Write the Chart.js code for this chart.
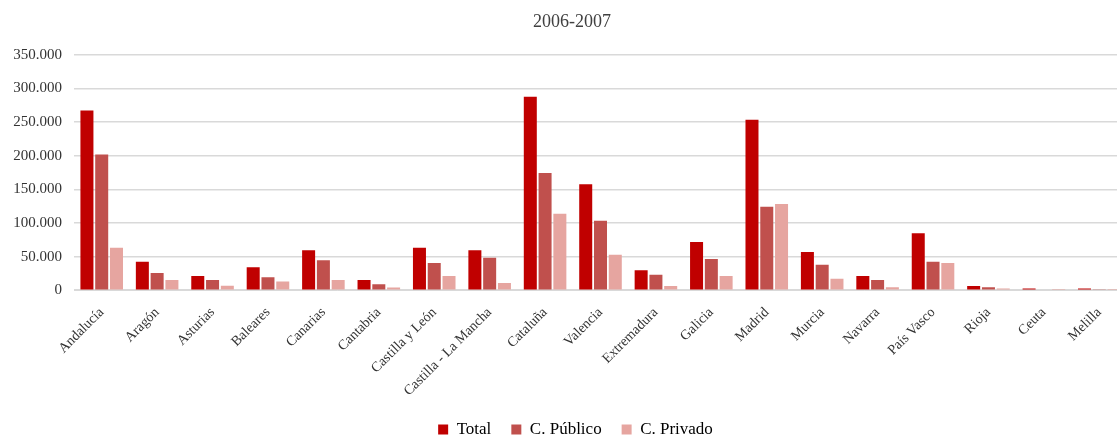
<!DOCTYPE html>
<html>
<head>
<meta charset="utf-8">
<title>2006-2007</title>
<script src="https://cdn.jsdelivr.net/npm/chart.js@4/dist/chart.umd.min.js"></script>
<style>
  html, body { margin: 0; padding: 0; background: #fff; overflow: hidden; }
  /* el original está recortado a la derecha y abajo */
  #wrap { position: relative; width: 1150px; height: 448px; }
</style>
</head>
<body>
<div id="wrap"><canvas id="alumnos"></canvas></div>
<script>
// datos 2006-2007 por comunidad
const comunidades = ["Andalucía", "Aragón", "Asturias", "Baleares", "Canarias", "Cantabria",
  "Castilla y León", "Castilla - La Mancha", "Cataluña", "Valencia", "Extremadura", "Galicia",
  "Madrid", "Murcia", "Navarra", "País Vasco", "Rioja", "Ceuta", "Melilla"];
const total   = [267000, 42400, 21200, 34100, 59300, 15300, 63200, 59300, 287700, 157600, 29700, 71600, 253600, 56800, 21200, 84500, 6400, 2400, 2400];
const publico = [201700, 25700, 15300, 19300, 44500, 8900, 40500, 48400, 174400, 103200, 23100, 46400, 124000, 38000, 15300, 42400, 4400, 1200, 1300];
const privado = [63200, 15300, 6800, 12800, 15300, 3900, 21200, 10800, 113600, 52800, 6400, 21200, 128000, 17200, 4400, 40500, 2400, 200, 200];
const yTicks  = [0, 50000, 100000, 150000, 200000, 250000, 300000, 350000];

const serif = "'Liberation Serif', 'Times New Roman', serif";

// 50000 -> "50.000"
function miles(v){
  return String(v).replace(/\B(?=(\d{3})+(?!\d))/g, ".");
}

// el título y la leyenda van centrados sobre el gráfico sin recortar
const centrarCabecera = {
  id: "centrarCabecera",
  afterLayout(chart){
    chart.titleBlock.left += 6.5;
    chart.titleBlock.right += 6.5;
    chart.legend.left += 10;
    chart.legend.right += 10;
  },
};

function createChart(labels, datasets, options, element){
  const ctx = document.getElementById(element);
  return new Chart(ctx, {
    type: "bar",
    data: { labels: labels, datasets: datasets },
    options: options,
    plugins: [centrarCabecera],
  });
}

const barAlumnos = createChart(
  comunidades,
  [
    { label: "Total", data: total, backgroundColor: "#C00000" },
    { label: "C. Público", data: publico, backgroundColor: "#C0504D" },
    { label: "C. Privado", data: privado, backgroundColor: "#E6A5A0" },
  ],
  {
    responsive: true,
    maintainAspectRatio: false,
    animation: false,
    categoryPercentage: 0.8,
    barPercentage: 0.88,
    layout: { padding: { left: 4, right: 23, top: 0, bottom: 0 } },
    plugins: {
      title: {
        display: true,
        text: "2006-2007",
        color: "#404040",
        font: { family: serif, size: 18, weight: "normal" },
        padding: { top: 11.5, bottom: 21.7 },
      },
      legend: {
        position: "bottom",
        labels: {
          color: "#000",
          font: { family: serif, size: 17 },
          boxWidth: 10,
          boxHeight: 10,
          padding: 20,
        },
      },
      tooltip: { enabled: false },
    },
    scales: {
      x: {
        afterFit: function(scale){ scale.height = 110.8; },
        grid: { display: false },
        border: { color: "#d9d9d9" },
        ticks: {
          color: "#333",
          font: { family: serif, size: 14 },
          minRotation: 45,
          maxRotation: 45,
          autoSkip: false,
          padding: 6,
        },
      },
      y: {
        min: 0,
        max: 350000,
        afterFit: function(scale){ scale.width = 70; },
        afterBuildTicks: function(scale){ scale.ticks = yTicks.map(v => ({ value: v })); },
        grid: { color: "#d9d9d9", lineWidth: 1.5, drawTicks: false },
        border: { display: false },
        ticks: {
          color: "#333",
          font: { family: serif, size: 15 },
          padding: 12,
          callback: function(v){ return miles(v); },
        },
      },
    },
  },
  "alumnos"
);
</script>
</body>
</html>
